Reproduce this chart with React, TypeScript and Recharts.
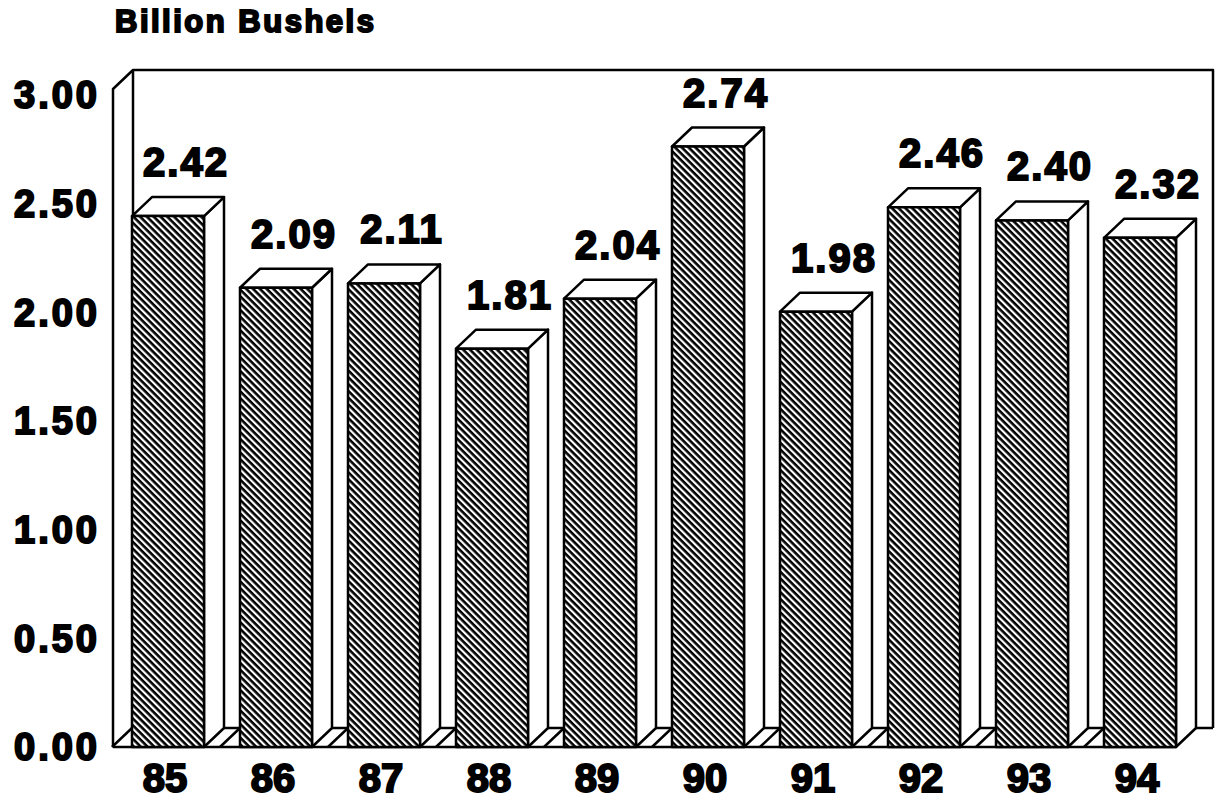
import React from 'react';
import { BarChart, Bar, XAxis, YAxis, LabelList } from 'recharts';

const years = ['85', '86', '87', '88', '89', '90', '91', '92', '93', '94'];
const bushels = [2.42, 2.09, 2.11, 1.81, 2.04, 2.74, 1.98, 2.46, 2.4, 2.32];
const yTicks = [0, 0.5, 1, 1.5, 2, 2.5, 3];

const data = years.map((year, i) => ({ year, value: bushels[i] }));

// layout of the "box" the bars sit in
const W = 1216;
const H = 803;
const LEFT = 114;
const RIGHT = 1194;
const TOP = 95;
const BOTTOM = 747;
const DX = 20;
const DY = 19;
const LIFT = 5;
const FONT = '"Liberation Sans", Arial, sans-serif';

function Bar3D(props: any) {
  const { x, y, width, height } = props;
  if (width == null || height == null) return null;
  const top = y - LIFT;
  const bottom = y + height;
  const r = x + width;
  return (
    <g stroke="#000" strokeWidth={2.5} strokeLinejoin="round">
      <line x1={x - DX} y1={bottom} x2={x} y2={bottom - DY} />
      <polygon
        points={`${r},${top} ${r + DX},${top - DY} ${r + DX},${bottom - DY} ${r},${bottom}`}
        fill="#fff"
      />
      <polygon
        points={`${x},${top} ${x + DX},${top - DY} ${r + DX},${top - DY} ${r},${top}`}
        fill="#fff"
      />
      <rect x={x} y={top} width={width} height={bottom - top} fill="url(#hatch)" />
    </g>
  );
}

function ValueLabel(props: any) {
  const { x, y, width, value } = props;
  return (
    <text
      x={x + width / 2 + 18}
      y={y - LIFT - 40}
      textAnchor="middle"
      fontFamily={FONT}
      fontWeight="bold"
      fontSize={40}
      letterSpacing={2}
      fill="#000"
      stroke="#000"
      strokeWidth={2}
    >
      {Number(value).toFixed(2)}
    </text>
  );
}

function Frame() {
  const backL = LEFT + DX - 1;
  const backR = RIGHT + DX - 1;
  const wallTop = TOP - 25;
  const floorBack = BOTTOM - DY;
  const lastRight = LEFT + ((RIGHT - LEFT) / years.length) * (years.length - 0.5) + 36;
  return (
    <svg width={W} height={H} style={{ position: 'absolute', left: 0, top: 0 }}>
      <text
        x={LEFT + 1}
        y={32}
        fontFamily={FONT}
        fontWeight="bold"
        fontSize={31}
        letterSpacing={2.5}
        fill="#000"
        stroke="#000"
        strokeWidth={2}
      >
        Billion Bushels
      </text>
      <g stroke="#000" strokeWidth={2.5} fill="none" strokeLinejoin="round">
        <polyline points={`${LEFT - 1},${BOTTOM} ${LEFT - 1},${wallTop + DY} ${backL},${wallTop} ${backR},${wallTop} ${backR},${floorBack}`} />
        <line x1={backL} y1={wallTop} x2={backL} y2={floorBack} />
        <line x1={backL} y1={floorBack} x2={backR} y2={floorBack} />
        <line x1={LEFT - 1} y1={BOTTOM} x2={lastRight} y2={BOTTOM} />
      </g>
    </svg>
  );
}

export default function App() {
  return (
    <div style={{ position: 'absolute', left: 0, top: 0, width: W, height: H, background: '#fff' }}>
      <Frame />
      <div style={{ position: 'absolute', left: 0, top: 0 }}>
        <BarChart
          width={W}
          height={H}
          data={data}
          margin={{ top: TOP, right: W - RIGHT, bottom: 0, left: 0 }}
          style={{ overflow: 'visible' }}
        >
          <defs>
            <pattern
              id="hatch"
              patternUnits="userSpaceOnUse"
              width={4.8}
              height={4.8}
              patternTransform="rotate(45)"
            >
              <rect width={4.8} height={4.8} fill="#fff" />
              <rect width={4.8} height={2.6} fill="#000" />
            </pattern>
          </defs>
          <XAxis
            dataKey="year"
            height={H - BOTTOM}
            axisLine={false}
            tickLine={false}
            tickSize={0}
            tickMargin={17}
            interval={0}
            dx={-3}
            tick={{ fontFamily: FONT, fontWeight: 'bold', fontSize: 40, fill: '#000', stroke: '#000', strokeWidth: 2 }}
          />
          <YAxis
            domain={[0, 3]}
            ticks={yTicks}
            width={LEFT}
            axisLine={false}
            tickLine={false}
            tickSize={0}
            tickMargin={14}
            tickFormatter={(v: number) => v.toFixed(2)}
            tick={{ fontFamily: FONT, fontWeight: 'bold', fontSize: 38, letterSpacing: 3, fill: '#000', stroke: '#000', strokeWidth: 2 }}
          />
          <Bar dataKey="value" barSize={72} shape={<Bar3D />} isAnimationActive={false}>
            <LabelList dataKey="value" content={<ValueLabel />} />
          </Bar>
        </BarChart>
      </div>
    </div>
  );
}
